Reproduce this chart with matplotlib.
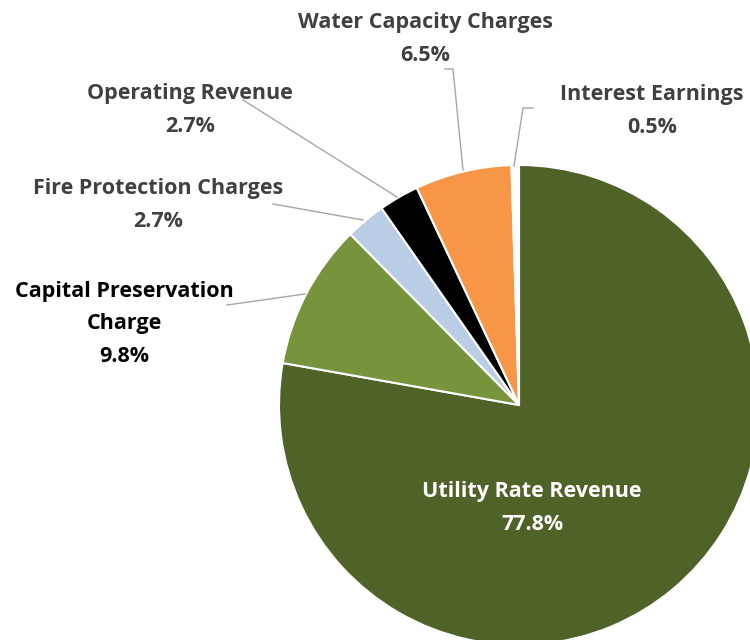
import matplotlib
matplotlib.use("Agg")
import matplotlib.pyplot as plt

# ---- data ----
categories = ["Utility Rate Revenue", "Capital Preservation\nCharge", "Fire Protection Charges",
              "Operating Revenue", "Water Capacity Charges", "Interest Earnings"]
shares = [77.8, 9.8, 2.7, 2.7, 6.5, 0.5]
pct_labels = ["77.8%", "9.8%", "2.7%", "2.7%", "6.5%", "0.5%"]

colors = ["#4F6228", "#77933C", "#B9CDE5", "#000000", "#F79646", "#FFFFFF"]

W, H = 750, 640
fig = plt.figure(figsize=(W / 100, H / 100), dpi=100)
ax = fig.add_axes([0, 0, 1, 1])

def P(x, y):
    return x, H - y

cx, cy = P(519, 405)
ax.pie(shares, colors=colors, startangle=90, counterclock=False,
       center=(cx, cy), radius=240, frame=True,
       wedgeprops=dict(edgecolor="white", linewidth=1.5))
ax.set_xlim(0, W)
ax.set_ylim(0, H)
ax.set_aspect("equal")
ax.axis("off")

font = dict(family=["Open Sans", "DejaVu Sans"], fontweight="bold", fontsize=15.5)
grey = "#404040"

# label positions (centers of text blocks) in pixel coords
label_pos = {
    0: (532, 508, "white"),
    1: (124, 324, "black"),
    2: (158, 205, grey),
    3: (190, 110, grey),
    4: (425, 39, grey),
    5: (652, 111, grey),
}
for i, (x, y, c) in label_pos.items():
    ax.text(*P(x, y), categories[i] + "\n" + pct_labels[i], ha="center", va="center",
            color=c, linespacing=1.75, **font)

# leader lines
lc = "#A6A6A6"
leaders = [
    [(243, 100), (397, 197)],
    [(273, 204), (363, 220)],
    [(445, 69), (453, 69), (463, 170)],
    [(533, 108), (523, 108), (514, 166)],
    [(227, 305), (305, 294)],
]
for pts in leaders:
    xs = [p[0] for p in pts]
    ys = [H - p[1] for p in pts]
    ax.plot(xs, ys, color=lc, linewidth=1.0)

fig.savefig("out.png", dpi=100)
